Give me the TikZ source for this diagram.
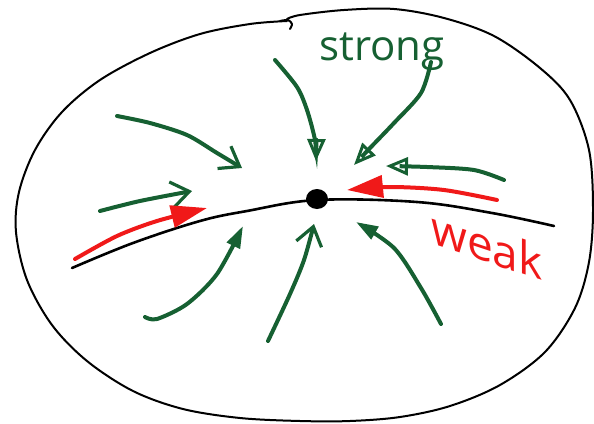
\documentclass[tikz,border=0pt]{standalone}
\usepackage{fontspec}
\usetikzlibrary{arrows.meta,shapes.geometric}
\newfontfamily\hand{Open Sans}
\definecolor{pgreen}{RGB}{22,96,50}
\definecolor{pred}{RGB}{240,25,25}
\begin{document}
\begin{tikzpicture}[x=0.5pt,y=-0.5pt,
 rim/.style={line width=1pt, black, line cap=round, line join=round},
 gbarb/.style={pgreen, line width=2pt, line cap=round, -{Straight Barb[length=9pt,width=13pt,line width=1.6pt]}},
 gopen/.style={pgreen, line width=2pt, line cap=round, -{Triangle[open,length=11pt,width=9pt,line width=1.5pt]}},
 gnarrow/.style={pgreen, line width=2pt, line cap=round, -{Triangle[length=11pt,width=7pt]}},
 rarrow/.style={pred, line width=2pt, line cap=round, -{Triangle[length=18pt,width=11pt]}},
 lbl/.style={inner sep=0pt, font=\hand},
]
\useasboundingbox (0,0) rectangle (594,423);
% outer closed line
\draw[rim] plot[smooth, tension=0.55] coordinates {(287,21) (250,24) (200,34) (150,53) (100,80) (62,112) (35,150) (19,192) (16,232) (27,280) (52,325) (87,361) (133,391) (183,409) (240,418) (300,421) (350,421) (400,417) (450,406) (500,385) (545,352) (575,308) (589,262) (593,210) (589,150) (570,100) (540,68) (494,36) (444,18) (394,9) (344,10) (300,15) (287,19)};
\draw[rim] plot[smooth] coordinates {(280,21) (288,20) (292,24) (290,29)};
% the black curve through the point
\draw[rim, line width=1.3pt] plot[smooth, tension=0.6] coordinates {(72,268) (133,243) (200,221) (247,211) (317,200) (417,202) (492,213) (554,226)};
\node[ellipse, fill=black, inner sep=0pt, minimum width=11pt, minimum height=10pt] (c) at (317,199) {};
% named ends
\coordinate (g1s) at (117,116); \coordinate (g1e) at (242,168);
\coordinate (g2s) at (275,60);  \coordinate (g2e) at (316,161);
\coordinate (g3s) at (431,62);  \coordinate (g3e) at (354,165);
\coordinate (g4s) at (504,180); \coordinate (g4e) at (386,166);
\coordinate (g5s) at (100,211); \coordinate (g5e) at (192,191);
\coordinate (g6s) at (145,317); \coordinate (g6e) at (243,226);
\coordinate (g7s) at (268,341); \coordinate (g7e) at (314,224);
\coordinate (g8s) at (441,324); \coordinate (g8e) at (356,222);
\coordinate (r1s) at (75,259);  \coordinate (r1e) at (207,208);
\coordinate (r2s) at (497,200); \coordinate (r2e) at (347,190);
% green arrows
\draw[gbarb] plot[smooth] coordinates {(g1s) (150,123) (187,135) (217,153) (g1e)};
\draw[gopen] plot[smooth] coordinates {(g2s) (297,87) (307,110) (315,140) (g2e)};
\draw[gopen] plot[smooth] coordinates {(g3s) (421,93) (394,123) (371,147) (g3e)};
\draw[gopen] plot[smooth] coordinates {(g4s) (474,170) (427,167) (g4e)};
\draw[gbarb] plot[smooth] coordinates {(g5s) (140,201) (g5e)};
\draw[gnarrow] plot[smooth] coordinates {(g6s) (157,319) (187,304) (217,274) (g6e)};
\draw[gbarb] plot[smooth] coordinates {(g7s) (290,294) (304,260) (g7e)};
\draw[gnarrow] plot[smooth] coordinates {(g8s) (421,288) (394,248) (g8e)};
% red arrows
\draw[rarrow] plot[smooth] coordinates {(r1s) (117,236) (157,221) (r1e)};
\draw[rarrow] plot[smooth] coordinates {(r2s) (444,190) (391,187) (r2e)};
% labels
\node[lbl, text=pgreen, anchor=base west, font=\hand\fontsize{21pt}{21pt}\selectfont] (strong) at (319,60) {strong};
\node[lbl, text=pred, anchor=center, yslant=-0.33, transform shape, font=\hand\fontsize{23pt}{23pt}\selectfont] (weak) at (487,245) {weak};
\end{tikzpicture}
\end{document}
